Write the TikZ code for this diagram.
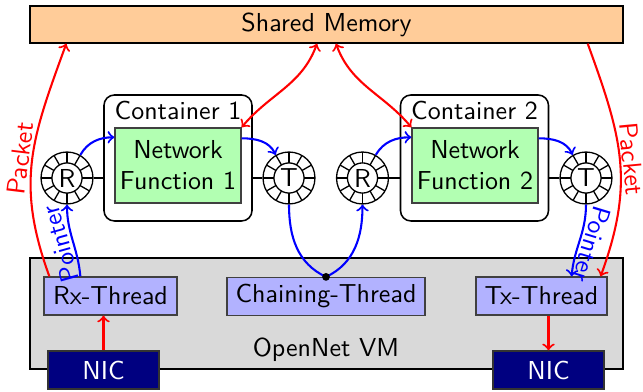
\documentclass[tikz,border=0pt]{standalone}
\usetikzlibrary{calc}
\begin{document}
\begin{tikzpicture}[x=0.385pt, y=-0.385pt,
  every node/.style={font=\sffamily},
  box/.style={draw=black!75, line width=0.5pt, inner sep=0pt},
  bigbox/.style={draw=black, line width=0.55pt, inner sep=0pt},
  thread/.style={box, fill=blue!30, minimum height=14.6pt},
  nic/.style={box, draw=black!80, fill=blue!50!black, text=white, minimum width=42.7pt, minimum height=14.6pt},
  nf/.style={box, fill=green!30, minimum width=48.5pt, minimum height=28.9pt, align=center},
  contbox/.style={draw=black, line width=0.6pt, rounded corners=4pt, fill=white, minimum width=57pt, minimum height=48.5pt},
  ring/.style={circle, draw, line width=0.5pt, fill=white, minimum size=20pt, inner sep=0pt,
    path picture={
      \draw[line width=0.5pt] (path picture bounding box.center) circle (5.8pt);
      \foreach \a in {0,30,...,330}
        \draw[line width=0.5pt] ([shift={(\a:5.8pt)}]path picture bounding box.center) -- ([shift={(\a:10pt)}]path picture bounding box.center);
    }},
  pkt/.style={red, thick, ->},
  ptr/.style={blue, thick, ->},
  lbl/.style={inner sep=1pt},
  plbl/.style={inner sep=0.6pt},
]
\useasboundingbox (0,0) rectangle (643,392);

% OpenNet VM
\node[bigbox, fill=gray!30, minimum width=228.3pt, minimum height=42.7pt] (VM) at (326.5,313.5) {};
\node (VMlabel) at (326,350) {OpenNet VM};

% threads
\node[thread, minimum width=51.2pt] (Rx) at (110.5,296) {Rx-Thread};
\node[thread, minimum width=76.2pt] (CT) at (326,296.5) {Chaining-Thread};
\node[thread, minimum width=50.4pt] (Tx) at (541.5,296) {Tx-Thread};

% NICs
\node[nic] (NIC1) at (103.5,370) {NIC};
\node[nic] (NIC2) at (548.5,370) {NIC};

% shared memory
\node[bigbox, fill=orange!40, minimum width=228.3pt, minimum height=14.2pt] (SM) at (326.5,24.5) {Shared Memory};

% containers
\node[contbox] (C1) at (178,158) {};
\node (C1label) at (178,110) {Container 1};
\node[nf] (NF1) at (178,165.5) {Network\\Function 1};

\node[contbox] (C2) at (474.5,158) {};
\node (C2label) at (474.5,110) {Container 2};
\node[nf] (NF2) at (475,165.5) {Network\\Function 2};

% rings
\node[ring] (R1) at (67,178) {R};
\node[ring] (T1) at (289,178) {T};
\node[ring] (R2) at (362.5,178) {R};
\node[ring] (T2) at (586,178) {T};

% ring-container links
\draw[line width=0.6pt] (R1.east) -- (R1.east -| C1.west);
\draw[line width=0.6pt] (T1.west -| C1.east) -- (T1.west);
\draw[line width=0.6pt] (R2.east) -- (R2.east -| C2.west);
\draw[line width=0.6pt] (T2.west -| C2.east) -- (T2.west);

% ring -> NF -> ring
\draw[ptr] (R1.60) to[out=60, in=180] ($(NF1.north west)+(0,10)$);
\draw[ptr] ($(NF1.north east)+(0,11)$) to[out=0, in=115] (T1.120);
\draw[ptr] (R2.60) to[out=60, in=180] ($(NF2.north west)+(0,10)$);
\draw[ptr] ($(NF2.north east)+(0,11)$) to[out=0, in=115] (T2.120);

% chaining
\draw[ptr] (T1.south) to[out=-90, in=155] (CT.north) to[out=25, in=-90] (R2.south);
\fill (CT.north) circle (1.5pt);

% pointers
\draw[ptr] ($(Rx.north west)+(37,0)$) to[out=95, in=-90]
  node[midway, sloped, allow upside down, above, lbl, text=blue] {Pointer} (R1.south);
\draw[ptr] (T2.south) to[out=-90, in=85]
  node[midway, sloped, allow upside down, above, lbl, text=blue] {Pointer} ($(Tx.north east)+(-36,0)$);

% packets
\draw[pkt] ($(Rx.north west)+(6,0)$) to[out=110, in=-110, looseness=1.1]
  node[midway, sloped, allow upside down, above, plbl, text=red] {Packet} ($(SM.south west)+(37,0)$);
\draw[pkt] ($(SM.south east)+(-36,0)$) to[out=-70, in=70, looseness=1.1]
  node[midway, sloped, allow upside down, above, plbl, text=red] {Packet} ($(Tx.north east)+(-7,0)$);

% shared memory <-> NFs
\draw[red, thick, <->] ($(SM.south)+(-9.5,0)$) to[out=-110, in=50] (NF1.north east);
\draw[red, thick, <->] ($(SM.south)+(9.5,0)$) to[out=-70, in=130] (NF2.north west);

% NIC arrows
\draw[pkt] (NIC1.north) -- (NIC1.north |- Rx.south);
\draw[pkt] (NIC2.north |- Tx.south) -- (NIC2.north);
\end{tikzpicture}
\end{document}
